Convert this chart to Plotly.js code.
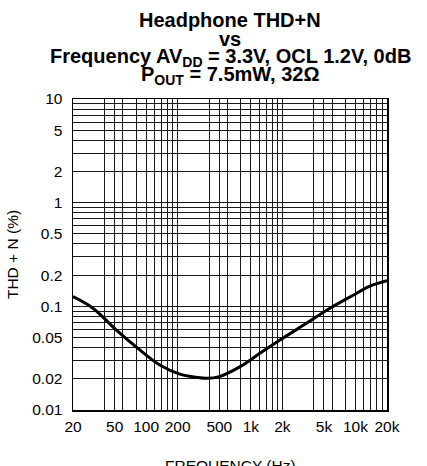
<!DOCTYPE html>
<html>
<head>
<meta charset="utf-8">
<script src="https://cdn.plot.ly/plotly-3.0.1.min.js"></script>
<style>html,body{margin:0;padding:0;background:#fff;}#chart{width:427px;height:466px;}</style>
</head>
<body>
<div id="chart"></div>
<script>
// Data
var frequencyHz = [20, 31, 52, 87, 135, 210, 300, 380, 500, 790, 1220, 1900, 3400, 5700, 9500, 13700, 20000];
var thdPercent  = [0.124, 0.096, 0.059, 0.038, 0.0272, 0.0222, 0.0207, 0.0202, 0.0210, 0.0262, 0.0352, 0.0473, 0.0686, 0.0957, 0.128, 0.157, 0.177];

var xTickVals = [20, 50, 100, 200, 500, 1000, 2000, 5000, 10000, 20000];
var xTickText = ['20', '50', '100', '200', '500', '1k', '2k', '5k', '10k', '20k'];
var yTickVals = [0.01, 0.02, 0.05, 0.1, 0.2, 0.5, 1, 2, 5, 10];
var yTickText = ['0.01', '0.02', '0.05', '0.1', '0.2', '0.5', '1', '2', '5', '10'];

var titleLines = [
  'Headphone THD+N',
  'vs',
  'Frequency AV<sub>DD</sub> = 3.3V, OCL 1.2V, 0dB',
  'P<sub>OUT</sub> = 7.5mW, 32Ω'
];
var xTitle = 'FREQUENCY (Hz)';
var yTitle = 'THD + N (%)';

function logGrid(lo, hi) {
  var out = [];
  for (var d = lo; d < hi * 1.0001; d *= 10) {
    for (var m = 1; m <= 9; m++) {
      var v = +(m * d).toPrecision(6);
      if (v >= lo * 0.9999 && v <= hi * 1.0001) out.push(v);
    }
  }
  return out;
}

var FONT = 'Liberation Sans, Arial, Helvetica, sans-serif';
var W = 427, H = 466;
var M = {l: 73, r: 40, t: 99, b: 56};
var plotH = H - M.t - M.b;
function paperY(px) { return (H - M.b - px) / plotH; }

var linePix = [20, 38.5, 57, 75.5];
var annotations = titleLines.map(function (t, i) {
  return {
    text: '<b>' + t + '</b>',
    xref: 'paper', yref: 'paper',
    x: 0.5, y: paperY(linePix[i]),
    xanchor: 'center', yanchor: 'middle',
    showarrow: false,
    font: {family: FONT, size: 20, color: '#000'}
  };
});
annotations.push({
  text: xTitle,
  xref: 'paper', yref: 'paper',
  x: 0.5, y: paperY(455),
  xanchor: 'center', yanchor: 'top',
  showarrow: false,
  font: {family: FONT, size: 15.5, color: '#000'}
});

var trace = {
  x: frequencyHz, y: thdPercent,
  type: 'scatter', mode: 'lines',
  line: {color: '#000', width: 3, shape: 'spline', smoothing: 1},
  hoverinfo: 'skip'
};

var gridColor = '#1a1a1a';
var layout = {
  width: W, height: H,
  margin: M,
  paper_bgcolor: '#fff', plot_bgcolor: '#fff',
  showlegend: false,
  font: {family: FONT, size: 15.5, color: '#000'},
  xaxis: {
    type: 'log',
    range: [Math.log10(20), Math.log10(20000)],
    tickmode: 'array', tickvals: xTickVals, ticktext: xTickText,
    ticks: '', ticklabelstandoff: 2,
    showgrid: true, gridcolor: gridColor, gridwidth: 1,
    minor: {tickmode: 'array', tickvals: logGrid(20, 20000), showgrid: true, gridcolor: gridColor, gridwidth: 1, ticks: ''},
    showline: true, mirror: true, linecolor: '#000', linewidth: 1.5,
    zeroline: false
  },
  yaxis: {
    type: 'log',
    range: [-2, 1],
    tickmode: 'array', tickvals: yTickVals, ticktext: yTickText,
    ticks: '', ticklabelstandoff: 6,
    showgrid: true, gridcolor: gridColor, gridwidth: 1,
    minor: {tickmode: 'array', tickvals: logGrid(0.01, 10), showgrid: true, gridcolor: gridColor, gridwidth: 1, ticks: ''},
    showline: true, mirror: true, linecolor: '#000', linewidth: 1.5,
    zeroline: false,
    title: {text: yTitle, font: {family: FONT, size: 15.5, color: '#000'}, standoff: 10}
  },
  annotations: annotations
};

Plotly.newPlot('chart', [trace], layout, {staticPlot: true, displayModeBar: false});
</script>
</body>
</html>
